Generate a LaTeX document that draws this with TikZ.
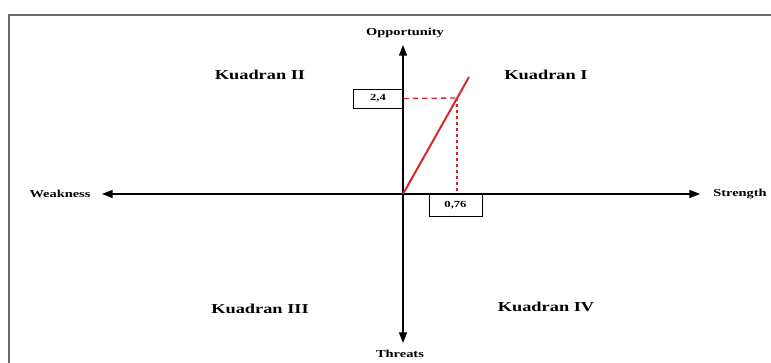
\documentclass[tikz,border=0pt]{standalone}
\usepackage{fontspec}
\setmainfont{Liberation Serif}
\newfontfamily\wideserif[FakeStretch=1.35]{Liberation Serif}
\usepackage{tikz}
\usetikzlibrary{arrows.meta,positioning}
\usepackage{xcolor}
\definecolor{swotred}  {RGB}{215, 40, 40}
\definecolor{framegray}{RGB}{105,105,105}

\begin{document}
\begin{tikzpicture}[
  x=0.75pt,y=-0.75pt,
  quad/.style={font=\wideserif\bfseries\fontsize{10.2}{12}\selectfont},
  axlbl/.style={font=\wideserif\bfseries\fontsize{8}{9}\selectfont},
  valbox/.style={draw=black,line width=0.7pt,inner sep=0pt,
                 font=\wideserif\bfseries\fontsize{7}{8}\selectfont},
  axisline/.style={line width=1.1pt,
                   {Triangle[length=8pt,width=6pt]}-{Triangle[length=8pt,width=6pt]}},
  guide/.style={swotred,line width=1pt,dash pattern=on 4pt off 3pt},
]
\useasboundingbox (0,0) rectangle (771,363);

%% Frame (cut off at right and bottom)
\draw[framegray,line width=1.5pt] (771,15) -- (9,15) -- (9,363);

%% Axes
\coordinate (O)     at (403,194);
\coordinate (ytop)  at (403,45);
\coordinate (ybot)  at (403,343);
\coordinate (xleft) at (102,194);
\coordinate (xright)at (700,194);
\draw[axisline] (ytop) -- (ybot);
\draw[axisline] (xleft) -- (xright);

%% Axis labels
\node[axlbl] (opp)  at (405,33)  {Opportunity};
\node[axlbl] (thr)  at (400,354) {Threats};
\node[axlbl] (weak) at (60,194)  {Weakness};
\node[axlbl] (str)  at (740,194) {Strength};

%% Quadrant labels
\node[quad] (q1) at (546,75)  {Kuadran I};
\node[quad] (q2) at (260,75)  {Kuadran II};
\node[quad] (q3) at (260,309) {Kuadran III};
\node[quad] (q4) at (546,307) {Kuadran IV};

%% Position point and value boxes
\coordinate (P)    at (457,98);
\coordinate (Pend) at (469,77);
\node[valbox,minimum width=37.5pt,minimum height=14.25pt] (ybox) at (378,98.5) {2,4};
\node[valbox,minimum width=39.75pt,minimum height=16.5pt] (xbox) at (455.5,205) {0,76};

\draw[guide] (ybox.east) -- (P);
\draw[guide,dash pattern=on 2.5pt off 2pt] (P) -- (P |- xbox.north);
\draw[swotred,line width=1.5pt] (O) -- (Pend);

\end{tikzpicture}
\end{document}
